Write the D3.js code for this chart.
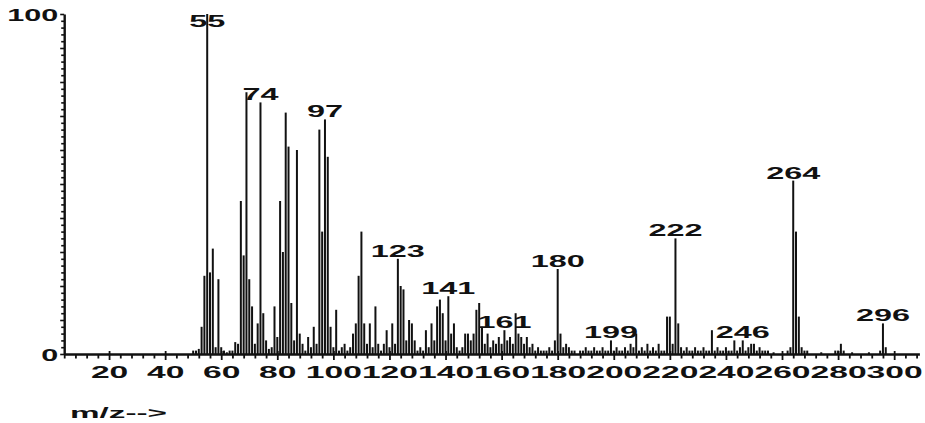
<!DOCTYPE html>
<html>
<head>
<meta charset="utf-8">
<script src="https://cdn.jsdelivr.net/npm/d3@7"></script>
<style>
  body { margin: 0; background: #fff; }
  svg text { font-family: "Liberation Sans", Arial, sans-serif; font-weight: bold; fill: #111; }
</style>
</head>
<body>
<script>
'use strict';

// m/z values and relative abundances
let mzValues = [
  50, 51, 52, 53, 54, 55, 56, 57, 58, 59, 60, 61, 62, 63, 64, 65, 66, 67, 68, 69,
  70, 71, 72, 73, 74, 75, 76, 77, 78, 79, 80, 81, 82, 83, 84, 85, 86, 87, 88, 89,
  90, 91, 92, 93, 94, 95, 96, 97, 98, 99, 100, 101, 102, 103, 104, 105, 106, 107, 108, 109,
  110, 111, 112, 113, 114, 115, 116, 117, 118, 119, 120, 121, 122, 123, 124, 125, 126, 127, 128, 129,
  130, 131, 132, 133, 134, 135, 136, 137, 138, 139, 140, 141, 142, 143, 144, 145, 146, 147, 148, 149,
  150, 151, 152, 153, 154, 155, 156, 157, 158, 159, 160, 161, 162, 163, 164, 165, 166, 167, 168, 169,
  170, 171, 172, 173, 174, 175, 176, 177, 178, 179, 180, 181, 182, 183, 184, 185, 186, 188, 189,
  190, 191, 192, 193, 194, 195, 196, 197, 198, 199, 200, 201, 202, 203, 204, 205, 206, 207, 208, 209,
  210, 211, 212, 213, 214, 215, 216, 217, 218, 219, 220, 221, 222, 223, 224, 225, 226, 227, 228, 229,
  230, 231, 232, 233, 234, 235, 236, 237, 238, 239, 240, 241, 242, 243, 244, 245, 246, 247, 248, 249,
  250, 251, 252, 253, 254, 255, 257, 262, 263, 264, 265, 266, 267, 268, 269,
  274, 279, 280, 281, 282, 285, 291, 295, 296, 297
];
let abundances = [
  1, 1, 1.5, 8, 23, 100, 24, 31, 2, 22, 2, 1, 0.5, 1, 1, 3.5, 3, 45, 29, 77,
  22, 14, 3, 9, 74, 12, 4, 1.5, 2, 14, 5, 45, 30, 71, 61, 15, 4, 60, 6, 3,
  1, 5, 2, 8, 3, 66, 36, 69, 58, 8, 2, 13, 1, 2, 3, 1, 2, 6, 9, 23,
  36, 9, 3, 9, 2, 14, 3, 1, 3, 7, 2, 9, 3, 28, 20, 19, 4, 10, 9, 4,
  1, 2, 1, 7, 2, 9, 4, 14, 16, 12, 4, 17, 6, 9, 2, 1, 2, 6, 6, 4,
  6, 13, 15, 8, 3, 6, 2, 4, 3, 5, 3, 7, 4, 5, 3, 12, 6, 5, 3, 5,
  2, 3, 1, 2, 1, 1, 1, 2, 1, 4, 25, 6, 2, 3, 2, 1, 1, 1, 1,
  2, 1, 1, 2, 1, 1, 2, 1, 1, 4, 1, 2, 1, 1, 2, 1, 3, 2, 6, 1,
  2, 1, 3, 1, 2, 1, 3, 1, 1, 11, 11, 3, 34, 9, 2, 1, 2, 1, 1, 2,
  1, 1, 2, 1, 1, 7, 1, 2, 1, 1, 2, 1, 1, 4, 1, 2, 4, 1, 2, 3,
  3, 1, 2, 1, 1, 1, 0.5, 1, 2, 51, 36, 11, 2, 1, 1,
  0.5, 1, 1, 3, 1, 0.5, 0.5, 1, 9, 2
];

let labelledPeaks = [55, 74, 97, 123, 141, 161, 180, 199, 222, 246, 264, 296];
let xTickLabels = [20, 40, 60, 80, 100, 120, 140, 160, 180, 200, 220, 240, 260, 280, 300];
let yTickLabels = [0, 100];

let width = 925;
let height = 423;

let peaks = mzValues.map((mz, i) => ({mz: mz, value: abundances[i]}));
let valueAt = (mz) => peaks.find((p) => p.mz === mz).value;

let x = d3.scaleLinear().domain([4, 309]).range([64.2, 919.4]);
let y = d3.scaleLinear().domain([0, 100]).range([354, 14]);

let svg = d3.select('body').append('svg')
  .attr('width', width)
  .attr('height', height);

// x axis: minor ticks every 4, labels every 20
let xAxis = d3.axisBottom(x)
  .tickValues(d3.range(4, 310, 4))
  .tickSize(4)
  .tickSizeOuter(0)
  .tickFormat((d) => (xTickLabels.indexOf(d) >= 0 ? d : ''));

let gx = svg.append('g')
  .attr('transform', 'translate(0,' + y(0) + ')')
  .call(xAxis);
gx.select('.domain').attr('stroke', '#111').attr('stroke-width', 2.4);
gx.selectAll('.tick line')
  .attr('stroke', '#111')
  .attr('stroke-width', 1.8)
  .attr('y1', (d) => (d % 20 === 0 ? -3 : 0))
  .attr('y2', (d) => (d % 20 === 0 ? 6 : 4.5));
gx.selectAll('.tick text')
  .attr('y', 12)
  .attr('dy', '0.71em')
  .style('font-size', '17px')
  .attr('textLength', (d) => String(d).length * 18.7)
  .attr('lengthAdjust', 'spacingAndGlyphs');

// y axis: ticks every 2, longer every 10
let yAxis = d3.axisLeft(y)
  .tickValues(d3.range(0, 101, 2))
  .tickSize(3)
  .tickSizeOuter(0)
  .tickFormat((d) => (yTickLabels.indexOf(d) >= 0 ? d : ''));

let gy = svg.append('g')
  .attr('transform', 'translate(' + x(4) + ',0)')
  .call(yAxis);
gy.select('.domain').attr('stroke', '#111').attr('stroke-width', 2.4);
gy.selectAll('.tick line')
  .attr('stroke', '#111')
  .attr('stroke-width', 1.6)
  .attr('x2', (d) => (d % 10 === 0 ? -4 : -3));
gy.selectAll('.tick text')
  .attr('x', -6)
  .attr('dy', '0.38em')
  .style('font-size', '17px')
  .attr('textLength', (d) => String(d).length * 17)
  .attr('lengthAdjust', 'spacingAndGlyphs');

// peaks
svg.append('g')
  .attr('class', 'peaks')
  .selectAll('line')
  .data(peaks)
  .enter().append('line')
    .attr('x1', (d) => x(d.mz))
    .attr('x2', (d) => x(d.mz))
    .attr('y1', y(0))
    .attr('y2', (d) => y(d.value))
    .attr('stroke', '#111')
    .attr('stroke-width', 2);

// peak labels
svg.append('g')
  .attr('class', 'labels')
  .selectAll('text')
  .data(labelledPeaks)
  .enter().append('text')
    .attr('x', (d) => x(d))
    .attr('y', (d) => Math.max(y(valueAt(d)) - 2, 27))
    .attr('text-anchor', 'middle')
    .style('font-size', '16px')
    .attr('textLength', (d) => String(d).length * 18)
    .attr('lengthAdjust', 'spacingAndGlyphs')
    .text((d) => d);

svg.append('text')
  .attr('x', 70)
  .attr('y', 418)
  .style('font-size', '15px')
  .attr('textLength', 97)
  .attr('lengthAdjust', 'spacingAndGlyphs')
  .text('m/z-->');
</script>
</body>
</html>
